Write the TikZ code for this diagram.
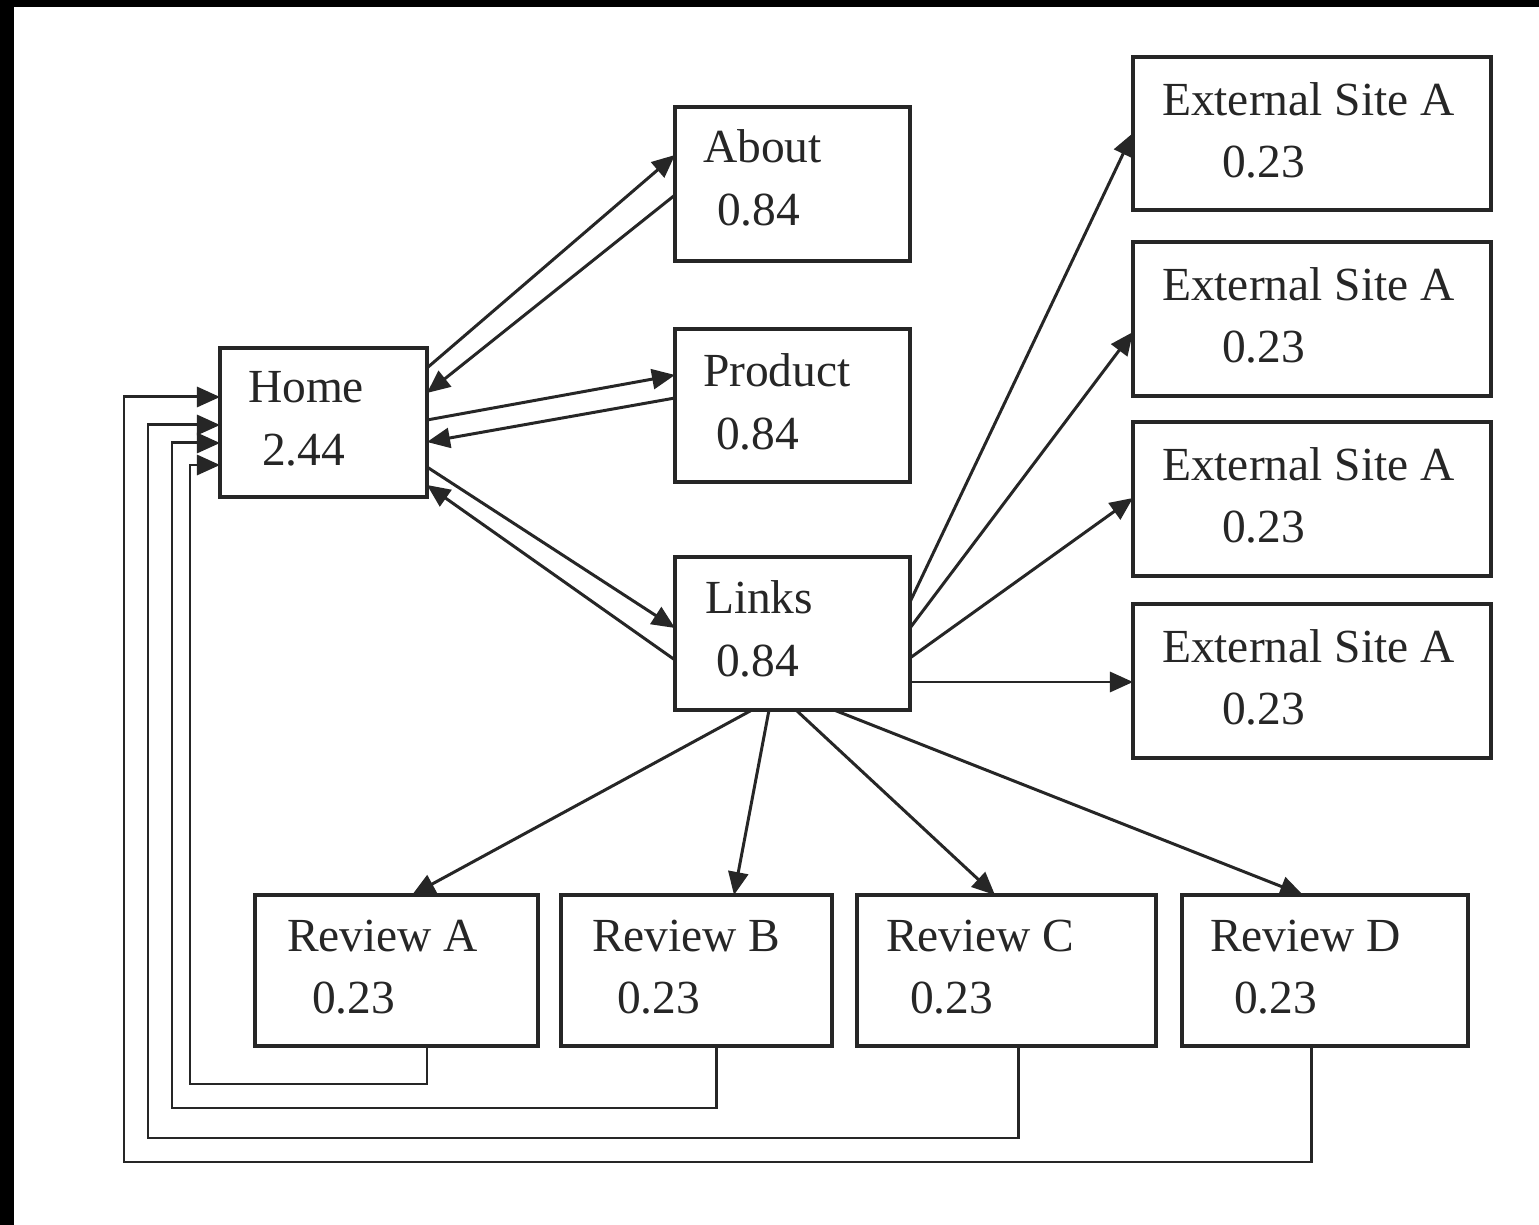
\documentclass[tikz,border=0pt]{standalone}
\usepackage{fontspec}
\setmainfont{Liberation Serif}
\usetikzlibrary{arrows.meta,fit}
\begin{document}
\begin{tikzpicture}[
  x=0.01cm, y=-0.01cm,
  box/.style={draw=black!85, line width=0.9pt, inner sep=0pt, outer sep=0pt},
  lbl/.style={anchor=base west, inner sep=0pt, outer sep=0pt, text=black!85,
              font=\fontsize{13.5}{16}\selectfont},
  link/.style={draw=black!85, line width=0.85pt,
               -{Triangle[length=0.23cm,width=0.2cm]}},
  loop/.style={link, line join=miter}
]
% page frame and dark edge strips
\useasboundingbox (0,0) rectangle (1539,1225);
\fill[white] (0,0) rectangle (1539,1225);
\fill[black] (0,0) rectangle (1539,7);
\fill[black] (0,0) rectangle (14,1225);

% pages
\node[box, fit={(220,348)(427,497)}] (home) {};
\node[box, fit={(675,107)(910,261)}] (about) {};
\node[box, fit={(675,329)(910,482)}] (product) {};
\node[box, fit={(675,557)(910,710)}] (links) {};
\node[box, fit={(1133,57)(1491,210)}] (extA) {};
\node[box, fit={(1133,242)(1491,396)}] (extB) {};
\node[box, fit={(1133,422)(1491,576)}] (extC) {};
\node[box, fit={(1133,604)(1491,758)}] (extD) {};
\node[box, fit={(255,895)(538,1046)}] (revA) {};
\node[box, fit={(561,895)(832,1046)}] (revB) {};
\node[box, fit={(857,895)(1156,1046)}] (revC) {};
\node[box, fit={(1182,895)(1468,1046)}] (revD) {};

% page names and scores
\node[lbl] (home-n) at (248,403) {Home};
\node[lbl] (home-s) at (262,466) {2.44};
\node[lbl] (about-n) at (703,163) {About};
\node[lbl] (about-s) at (717,226) {0.84};
\node[lbl] (product-n) at (703,387) {Product};
\node[lbl] (product-s) at (716,450) {0.84};
\node[lbl] (links-n) at (705,614) {Links};
\node[lbl] (links-s) at (716,677) {0.84};
\node[lbl] (extA-n) at (1162,116) {External Site A};
\node[lbl] (extA-s) at (1222,178) {0.23};
\node[lbl] (extB-n) at (1162,301) {External Site A};
\node[lbl] (extB-s) at (1222,363) {0.23};
\node[lbl] (extC-n) at (1162,481) {External Site A};
\node[lbl] (extC-s) at (1222,543) {0.23};
\node[lbl] (extD-n) at (1162,663) {External Site A};
\node[lbl] (extD-s) at (1222,725) {0.23};
\node[lbl] (revA-n) at (287,952) {Review A};
\node[lbl] (revA-s) at (312,1014) {0.23};
\node[lbl] (revB-n) at (592,952) {Review B};
\node[lbl] (revB-s) at (617,1014) {0.23};
\node[lbl] (revC-n) at (886,952) {Review C};
\node[lbl] (revC-s) at (910,1014) {0.23};
\node[lbl] (revD-n) at (1210,952) {Review D};
\node[lbl] (revD-s) at (1234,1014) {0.23};

% links between Home and its three pages
\draw[link] (home.east |- 0,368) -- (about.west |- 0,155);
\draw[link] (about.west |- 0,195) -- (home.east |- 0,393);
\draw[link] (home.east |- 0,420) -- (product.west |- 0,375);
\draw[link] (product.west |- 0,398) -- (home.east |- 0,442);
\draw[link] (home.east |- 0,467) -- (links.west |- 0,628);
\draw[link] (links.west |- 0,660) -- (home.east |- 0,485);

% outgoing links to external sites
\draw[link] (links.east |- 0,602) -- (extA.west |- 0,133);
\draw[link] (links.east |- 0,628) -- (extB.west |- 0,332);
\draw[link] (links.east |- 0,658) -- (extC.west |- 0,498);
\draw[link] (links.east |- 0,682) -- (extD.west |- 0,682);

% links to the reviews
\draw[link] (links.south -| 752,0) -- (revA.north -| 412,0);
\draw[link] (links.south -| 769,0) -- (revB.north -| 734,0);
\draw[link] (links.south -| 796,0) -- (revC.north -| 995,0);
\draw[link] (links.south -| 834,0) -- (revD.north -| 1303,0);

% reviews back to Home
\draw[loop] (revA.south -| 427,0) |- (190,1084) |- (home.west |- 0,465);
\draw[loop] (revB.south -| 716,0) |- (172,1108) |- (home.west |- 0,443);
\draw[loop] (revC.south -| 1018,0) |- (148,1138) |- (home.west |- 0,425);
\draw[loop] (revD.south -| 1311,0) |- (124,1162) |- (home.west |- 0,397);
\end{tikzpicture}
\end{document}
